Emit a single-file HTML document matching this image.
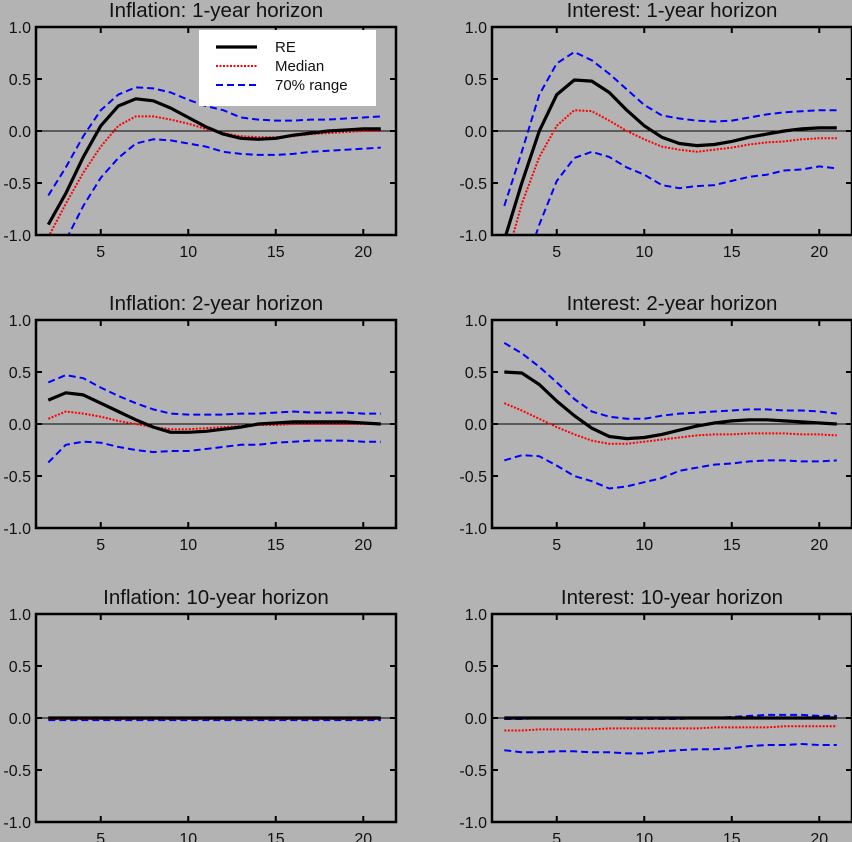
<!DOCTYPE html>
<html><head><meta charset="utf-8"><style>
html,body{margin:0;padding:0;background:#b3b3b3;}
svg{display:block;font-family:"Liberation Sans",sans-serif;}
</style></head><body>
<svg id="chart" width="852" height="842"></svg>
<script>
const xs=[2,3,4,5,6,7,8,9,10,11,12,13,14,15,16,17,18,19,20,21];
const titles=["Inflation: 1-year horizon","Interest: 1-year horizon","Inflation: 2-year horizon","Interest: 2-year horizon","Inflation: 10-year horizon","Interest: 10-year horizon"];
const yTicks=[1.0,0.5,0.0,-0.5,-1.0];
const xTicks=[5,10,15,20];
// panel 1: inflation 1y
const p1RE=[-0.9,-0.6,-0.25,0.05,0.24,0.31,0.29,0.22,0.13,0.04,-0.03,-0.07,-0.08,-0.07,-0.04,-0.02,0.0,0.01,0.02,0.02];
const p1Med=[-1.02,-0.7,-0.4,-0.15,0.05,0.14,0.14,0.11,0.07,0.02,-0.02,-0.05,-0.06,-0.06,-0.05,-0.03,-0.02,-0.01,0.0,0.0];
const p1Up=[-0.62,-0.35,-0.05,0.2,0.35,0.42,0.41,0.37,0.3,0.24,0.2,0.13,0.11,0.1,0.1,0.11,0.11,0.12,0.13,0.14];
const p1Lo=[-1.3,-1.05,-0.72,-0.45,-0.26,-0.12,-0.08,-0.09,-0.12,-0.15,-0.2,-0.22,-0.23,-0.23,-0.22,-0.2,-0.19,-0.18,-0.17,-0.16];
// panel 2: interest 1y
const p2RE=[-1.05,-0.5,0.0,0.35,0.49,0.48,0.37,0.2,0.05,-0.06,-0.12,-0.14,-0.13,-0.1,-0.06,-0.03,0.0,0.02,0.03,0.03];
const p2Med=[-1.3,-0.7,-0.25,0.05,0.2,0.19,0.1,0.0,-0.08,-0.15,-0.18,-0.2,-0.18,-0.16,-0.13,-0.11,-0.1,-0.08,-0.07,-0.07];
const p2Up=[-0.72,-0.2,0.35,0.65,0.76,0.68,0.55,0.4,0.25,0.15,0.12,0.1,0.09,0.1,0.13,0.16,0.18,0.19,0.2,0.2];
const p2Lo=[-1.8,-1.4,-0.9,-0.48,-0.26,-0.2,-0.25,-0.35,-0.42,-0.52,-0.55,-0.53,-0.52,-0.48,-0.44,-0.42,-0.38,-0.37,-0.34,-0.36];
// panel 3: inflation 2y
const p3RE=[0.23,0.3,0.28,0.2,0.12,0.04,-0.03,-0.08,-0.08,-0.07,-0.05,-0.03,0.0,0.01,0.02,0.02,0.02,0.02,0.01,0.0];
const p3Med=[0.05,0.12,0.1,0.07,0.03,0.0,-0.03,-0.05,-0.05,-0.04,-0.03,-0.02,-0.01,-0.01,0.0,0.0,0.0,0.0,0.0,0.0];
const p3Up=[0.4,0.47,0.44,0.35,0.27,0.2,0.14,0.1,0.09,0.09,0.09,0.1,0.1,0.11,0.12,0.11,0.11,0.11,0.1,0.1];
const p3Lo=[-0.37,-0.2,-0.17,-0.18,-0.22,-0.25,-0.27,-0.26,-0.26,-0.24,-0.22,-0.2,-0.2,-0.18,-0.17,-0.16,-0.16,-0.16,-0.17,-0.17];
// panel 4: interest 2y
const p4RE=[0.5,0.49,0.38,0.22,0.08,-0.04,-0.12,-0.14,-0.13,-0.1,-0.06,-0.02,0.01,0.03,0.04,0.04,0.03,0.02,0.01,0.0];
const p4Med=[0.2,0.13,0.05,-0.03,-0.1,-0.16,-0.19,-0.19,-0.17,-0.15,-0.13,-0.11,-0.1,-0.1,-0.09,-0.09,-0.09,-0.1,-0.1,-0.11];
const p4Up=[0.78,0.68,0.55,0.4,0.24,0.12,0.07,0.05,0.05,0.08,0.1,0.11,0.12,0.13,0.14,0.14,0.13,0.13,0.12,0.1];
const p4Lo=[-0.35,-0.3,-0.31,-0.4,-0.5,-0.55,-0.62,-0.6,-0.56,-0.52,-0.45,-0.42,-0.39,-0.38,-0.36,-0.35,-0.35,-0.36,-0.36,-0.35];
// panel 5: inflation 10y
const p5RE=[0,0,0,0,0,0,0,0,0,0,0,0,0,0,0,0,0,0,0,0];
const p5Med=[-0.01,-0.01,-0.01,-0.01,-0.01,-0.01,-0.01,-0.01,-0.01,-0.01,-0.01,-0.01,-0.01,-0.01,-0.01,-0.01,-0.01,-0.01,-0.01,-0.01];
const p5Up=[0.0,0.0,0.0,0.0,0.0,0.0,0.0,0.0,0.0,0.0,0.0,0.0,0.0,0.0,0.0,0.0,0.0,0.0,0.0,0.0];
const p5Lo=[-0.02,-0.02,-0.02,-0.02,-0.02,-0.02,-0.02,-0.02,-0.02,-0.02,-0.02,-0.02,-0.02,-0.02,-0.02,-0.02,-0.02,-0.02,-0.02,-0.02];
// panel 6: interest 10y
const p6RE=[0,0,0,0,0,0,0,0,0,0,0,0,0,0,0,0,0,0,0,0];
const p6Med=[-0.12,-0.12,-0.11,-0.11,-0.11,-0.11,-0.1,-0.1,-0.1,-0.1,-0.1,-0.1,-0.09,-0.09,-0.09,-0.09,-0.08,-0.08,-0.08,-0.08];
const p6Up=[-0.01,-0.01,0.0,0.0,0.0,0.0,0.0,-0.01,-0.01,-0.01,-0.01,0.0,0.0,0.01,0.02,0.03,0.03,0.03,0.02,0.02];
const p6Lo=[-0.31,-0.33,-0.33,-0.32,-0.32,-0.33,-0.33,-0.34,-0.34,-0.32,-0.31,-0.3,-0.3,-0.29,-0.27,-0.26,-0.26,-0.25,-0.26,-0.26];
const panelData=[[p1RE,p1Med,p1Up,p1Lo],[p2RE,p2Med,p2Up,p2Lo],[p3RE,p3Med,p3Up,p3Lo],[p4RE,p4Med,p4Up,p4Lo],[p5RE,p5Med,p5Up,p5Lo],[p6RE,p6Med,p6Up,p6Lo]];

const NS="http://www.w3.org/2000/svg";
const svg=document.getElementById('chart');
function mk(tag,attrs,parent){const e=document.createElementNS(NS,tag);for(const k in attrs)e.setAttribute(k,attrs[k]);(parent||svg).appendChild(e);return e;}
const lefts=[36,492], tops=[27,320,614], W=360, H=208;
const xMin=1.3,xMax=21.87;
panelData.forEach((d,i)=>{
  const L=lefts[i%2], T=tops[Math.floor(i/2)];
  const sx=v=>L+(v-xMin)/(xMax-xMin)*W;
  const sy=v=>T+(1-v)/2*H;
  const g=mk('g',{});
  
  
  const cp=mk('clipPath',{id:'cp'+i},g);mk('rect',{x:L,y:T,width:W,height:H},cp);
  const t=mk('text',{x:L+W/2,y:T-10,'text-anchor':'middle','font-size':20.5,fill:'#111'},g);t.textContent=titles[i];
  
  
  yTicks.forEach(v=>{
    const lb=mk('text',{x:L-5,y:sy(v)+6,'text-anchor':'end','font-size':16,fill:'#111'},g);lb.textContent=v.toFixed(1);
    
    
    mk('line',{x1:L,x2:L+6,y1:sy(v),y2:sy(v),stroke:'#000','stroke-width':2},g);
    mk('line',{x1:L+W-6,x2:L+W,y1:sy(v),y2:sy(v),stroke:'#000','stroke-width':2},g);
  });
  xTicks.forEach(v=>{
    const lb=mk('text',{x:sx(v),y:T+H+22,'text-anchor':'middle','font-size':16,fill:'#111'},g);lb.textContent=v;
    
    
    mk('line',{x1:sx(v),x2:sx(v),y1:T+H,y2:T+H-6,stroke:'#000','stroke-width':2},g);
    mk('line',{x1:sx(v),x2:sx(v),y1:T,y2:T+6,stroke:'#000','stroke-width':2},g);
  });
  mk('line',{x1:L,x2:L+W,y1:sy(0),y2:sy(0),stroke:'#000','stroke-width':1},g);
  const styles=[{stroke:'#000','stroke-width':3.2},{stroke:'#f00','stroke-width':2,'stroke-dasharray':'2,1.5'},{stroke:'#00f','stroke-width':2,'stroke-dasharray':'7,4'},{stroke:'#00f','stroke-width':2,'stroke-dasharray':'7,4'}];
  const names=['re-line','median-line','range-upper-line','range-lower-line'];
  [3,2,1,0].forEach(k=>{
    const pts=d[k].map((v,j)=>sx(xs[j]).toFixed(1)+','+sy(v).toFixed(1)).join(' ');
    const a=Object.assign({points:pts,fill:'none','clip-path':'url(#cp'+i+')','stroke-linejoin':'round'},styles[k]);
    const pl=mk('polyline',a,g);
    
    
  });
  mk('rect',{x:L,y:T,width:W,height:H,fill:'none',stroke:'#000','stroke-width':2.5},g);
  if(i===0){
    const lg=mk('g',{},g);
    
    
    mk('rect',{x:199,y:30,width:177,height:76,fill:'#fff'},lg);
    const labs=['RE','Median','70% range'];
    labs.forEach((s,k)=>{
      const y=47+k*19;
      mk('line',Object.assign({x1:216,x2:257,y1:y,y2:y},styles[k]),lg);
      const tx=mk('text',{x:275,y:y+5,'font-size':15,fill:'#111'},lg);tx.textContent=s;
      
      
    });
  }
});
</script>
</body></html>
